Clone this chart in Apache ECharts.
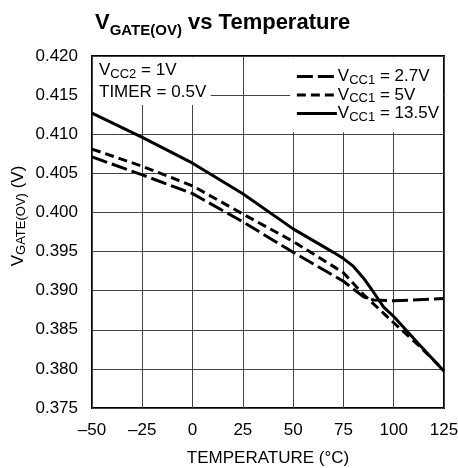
<!DOCTYPE html>
<html>
<head>
<meta charset="utf-8">
<script src="https://cdn.jsdelivr.net/npm/echarts@6/dist/echarts.min.js"></script>
<style>
  html, body { margin: 0; padding: 0; background: #fff; }
  #chart { width: 458px; height: 468px; }
</style>
</head>
<body>
<div id="chart"></div>
<script>
const FONT = '"Liberation Sans", Arial, sans-serif';

// data
const temp27 = [-50, -25, 0, 25, 50, 75, 85, 90, 100, 125];
const vcc27 = [0.4071, 0.4048, 0.4024, 0.3988, 0.3949, 0.3912, 0.3892, 0.3888, 0.3887, 0.3890];

const temp5 = [-50, -25, 0, 25, 50, 75, 85, 100, 112, 125];
const vcc5 = [0.4081, 0.4059, 0.4034, 0.3998, 0.3963, 0.3923, 0.3895, 0.3859, 0.3831, 0.3798];

const temp135 = [-50, -25, 0, 25, 50, 70, 75, 80, 85, 90, 95, 100, 112, 125];
const vcc135 = [0.4127, 0.4096, 0.4063, 0.4024, 0.3979, 0.3949, 0.3941, 0.3931, 0.3916, 0.3898, 0.3879, 0.3867, 0.3833, 0.3797];

const xTicks = [-50, -25, 0, 25, 50, 75, 100, 125];
const seriesNames = ['2.7V', '5V', '13.5V'];

const zip = (xs, ys) => xs.map((x, i) => [x, ys[i]]);

const chart = echarts.init(document.getElementById('chart'));

const lineSeries = (name, data, type) => ({
  name: name,
  type: 'line',
  data: data,
  symbol: 'none',
  z: 3,
  lineStyle: { color: '#000', width: 3, type: type },
  itemStyle: { color: '#000' }
});

const richSub = (key) => ({
  v: { fontFamily: FONT, fontSize: 17, [key]: '#000', lineHeight: 20, verticalAlign: 'middle' },
  s: { fontFamily: FONT, fontSize: 13, [key]: '#000', lineHeight: 12, verticalAlign: 'bottom' }
});

chart.setOption({
  animation: false,
  textStyle: { fontFamily: FONT },
  title: {
    text: '{a|V}{b|GATE(OV)}{a| vs Temperature}',
    left: 90,
    top: 3,
    textStyle: {
      rich: {
        a: { fontFamily: FONT, fontSize: 22, fontWeight: 'bold', color: '#000', lineHeight: 30, verticalAlign: 'middle' },
        b: { fontFamily: FONT, fontSize: 15, fontWeight: 'bold', color: '#000', lineHeight: 15, verticalAlign: 'bottom' }
      }
    }
  },
  grid: {
    left: 92, right: 14, top: 56, bottom: 60,
    outerBoundsMode: 'none',
    show: true, borderColor: '#000', borderWidth: 2
  },
  legend: {
    orient: 'vertical',
    right: 14,
    top: 63,
    itemWidth: 40,
    itemHeight: 14,
    itemGap: 0,
    data: seriesNames,
    itemStyle: { color: 'rgba(0,0,0,0)', borderWidth: 0 },
    lineStyle: { width: 3 },
    formatter: n => '{v|V}{s|CC1}{v| = ' + n + '}',
    textStyle: {
      padding: [0, 0, 0, -4],
      rich: richSub('color')
    }
  },
  graphic: [
    {
      type: 'text', left: 99, top: 62, z: 10,
      style: { text: '{v|V}{s|CC2}{v| = 1V}', rich: richSub('fill') }
    },
    {
      type: 'text', left: 99, top: 84, z: 10,
      style: { text: 'TIMER = 0.5V', fontFamily: FONT, fontSize: 17, fill: '#000' }
    },
    {
      type: 'text', x: 18, y: 216, rotation: Math.PI / 2, z: 10,
      style: {
        text: '{v|V}{s|GATE(OV)}{v| (V)}',
        align: 'center',
        verticalAlign: 'middle',
        rich: richSub('fill')
      }
    }
  ],
  xAxis: {
    type: 'value',
    min: -50,
    max: 125,
    interval: 25,
    name: 'TEMPERATURE (°C)',
    nameLocation: 'middle',
    nameGap: 42,
    nameTextStyle: { fontFamily: FONT, fontSize: 17, color: '#000' },
    axisLine: { show: false },
    axisTick: { show: false },
    splitLine: { show: true, lineStyle: { color: '#444', width: 1 } },
    axisLabel: {
      fontFamily: FONT, fontSize: 17, color: '#000', margin: 14,
      formatter: v => (xTicks.includes(v) ? String(v).replace('-', '\u2013') : '')
    }
  },
  yAxis: {
    type: 'value',
    min: 0.375,
    max: 0.420,
    interval: 0.005,
    axisLine: { show: false },
    axisTick: { show: false },
    splitLine: { show: true, lineStyle: { color: '#444', width: 1 } },
    axisLabel: {
      fontFamily: FONT, fontSize: 17, color: '#000', margin: 14,
      formatter: v => v.toFixed(3)
    }
  },
  series: [
    lineSeries('2.7V', zip(temp27, vcc27), [16, 5]),
    lineSeries('5V', zip(temp5, vcc5), [9, 5]),
    lineSeries('13.5V', zip(temp135, vcc135), 'solid'),
    {
      type: 'line',
      data: [],
      silent: true,
      z: 2,
      markArea: {
        silent: true,
        itemStyle: { color: '#fff' },
        data: [
          [{ coord: [-49.4, 0.41985] }, { coord: [9, 0.41375] }],
          [{ coord: [48.5, 0.41985] }, { coord: [124.4, 0.41025] }]
        ]
      }
    }
  ]
});
</script>
</body>
</html>
